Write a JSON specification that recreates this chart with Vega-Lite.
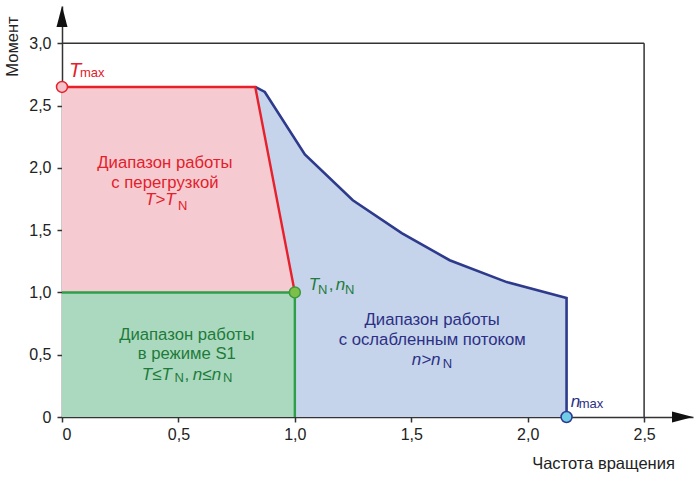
{
  "$schema": "https://vega.github.io/schema/vega-lite/v6.json",
  "width": 631,
  "height": 411,
  "autosize": {"type": "none"},
  "padding": {"left": 62, "top": 6, "right": 4, "bottom": 60},
  "background": "white",
  "config": {
    "view": {"stroke": null},
    "font": "Liberation Sans",
    "axis": {
      "grid": false,
      "domainColor": "#333333",
      "domainWidth": 1.5,
      "tickColor": "#333333",
      "tickWidth": 1.5,
      "tickSize": 5,
      "labelFont": "Liberation Sans",
      "labelFontSize": 16,
      "labelColor": "#222222",
      "titleFont": "Liberation Sans",
      "titleFontSize": 16.5,
      "titleFontWeight": "normal",
      "titleColor": "#222222"
    }
  },
  "datasets": {
    "curve": [
      {"x": 0.83, "y": 2.65, "o": 1},
      {"x": 0.871, "y": 2.61, "o": 2},
      {"x": 1.043, "y": 2.109, "o": 3},
      {"x": 1.249, "y": 1.74, "o": 4},
      {"x": 1.459, "y": 1.476, "o": 5},
      {"x": 1.665, "y": 1.259, "o": 6},
      {"x": 1.91, "y": 1.083, "o": 7},
      {"x": 2.167, "y": 0.955, "o": 8}
    ],
    "curveEnd": [
      {"x": 0.83, "y": 2.65, "o": 1},
      {"x": 0.871, "y": 2.61, "o": 2},
      {"x": 1.043, "y": 2.109, "o": 3},
      {"x": 1.249, "y": 1.74, "o": 4},
      {"x": 1.459, "y": 1.476, "o": 5},
      {"x": 1.665, "y": 1.259, "o": 6},
      {"x": 1.91, "y": 1.083, "o": 7},
      {"x": 2.167, "y": 0.955, "o": 8},
      {"x": 2.167, "y": 0, "o": 9}
    ],
    "red": [
      {"x": 0, "y": 2.65, "o": 1},
      {"x": 0.83, "y": 2.65, "o": 2},
      {"x": 1.0, "y": 1.0, "o": 3}
    ],
    "greenLine": [
      {"x": 0, "y": 1, "o": 1},
      {"x": 1, "y": 1, "o": 2},
      {"x": 1, "y": 0, "o": 3}
    ],
    "box": [
      {"x": 0, "x2": 2.5, "y": 3.0, "y2": 3.0},
      {"x": 2.5, "x2": 2.5, "y": 0, "y2": 3.0}
    ],
    "pts": [
      {"x": 0, "y": 2.65, "c": "r"},
      {"x": 1, "y": 1, "c": "g"},
      {"x": 2.167, "y": 0, "c": "b"}
    ],
    "body": [
      {"x": 0.442, "y": 1.997, "t": "Диапазон работы", "c": "r"},
      {"x": 0.442, "y": 1.836, "t": "с перегрузкой", "c": "r"},
      {"x": 0.536, "y": 0.617, "t": "Диапазон работы", "c": "g"},
      {"x": 0.536, "y": 0.465, "t": "в режиме S1", "c": "g"},
      {"x": 1.59, "y": 0.738, "t": "Диапазон работы", "c": "b"},
      {"x": 1.59, "y": 0.577, "t": "с ослабленным потоком", "c": "b"}
    ],
    "ital": [
      {"x": 0.356, "y": 1.70, "t": "T>T", "c": "r"},
      {"x": 0.343, "y": 0.297, "t": "T≤T", "c": "g"},
      {"x": 0.562, "y": 0.297, "t": "n≤n", "c": "g"},
      {"x": 1.06, "y": 1.018, "t": "T", "c": "g"},
      {"x": 1.176, "y": 1.018, "t": "n", "c": "g"},
      {"x": 1.502, "y": 0.417, "t": "n>n", "c": "b"},
      {"x": 2.185, "y": 0.08, "t": "n", "c": "b"}
    ],
    "big": [
      {"x": 0.03, "y": 2.727, "t": "T", "c": "r"}
    ],
    "sub": [
      {"x": 0.077, "y": 2.727, "t": "max", "c": "r"},
      {"x": 0.498, "y": 1.66, "t": "N", "c": "r"},
      {"x": 0.483, "y": 0.28, "t": "N", "c": "g"},
      {"x": 0.691, "y": 0.28, "t": "N", "c": "g"},
      {"x": 1.099, "y": 0.988, "t": "N", "c": "g"},
      {"x": 1.215, "y": 0.988, "t": "N", "c": "g"},
      {"x": 1.635, "y": 0.393, "t": "N", "c": "b"},
      {"x": 2.219, "y": 0.072, "t": "max", "c": "b"}
    ],
    "punct": [
      {"x": 0.526, "y": 0.297, "t": ",", "c": "g"},
      {"x": 1.146, "y": 1.018, "t": ",", "c": "g"}
    ],
    "arrowX": [{"x": 2.71, "y": 0}],
    "arrowY": [{"x": 0, "y": 3.3}]
  },
  "encoding": {
    "x": {
      "field": "x",
      "type": "quantitative",
      "scale": {"domain": [0, 2.71], "nice": false, "zero": false},
      "axis": {
        "values": [0, 0.5, 1, 1.5, 2, 2.5],
        "labelExpr": "datum.value == 0 ? '0' : replace(format(datum.value, '.1f'), '.', ',')",
        "labelPadding": 4,
        "title": "Частота вращения",
        "titleX": 541,
        "titleY": 46,
        "titleAlign": "center",
        "titleBaseline": "middle",
        "titleAnchor": null
      }
    },
    "y": {
      "field": "y",
      "type": "quantitative",
      "scale": {"domain": [0, 3.3], "nice": false, "zero": false},
      "axis": {
        "values": [0, 0.5, 1, 1.5, 2, 2.5, 3],
        "labelExpr": "datum.value == 0 ? '0' : replace(format(datum.value, '.1f'), '.', ',')",
        "labelPadding": 6,
        "title": "Момент",
        "titleX": -50,
        "titleY": 40,
        "titleAngle": -90,
        "titleAlign": "center",
        "titleBaseline": "middle",
        "titleAnchor": null
      }
    }
  },
  "layer": [
    {
      "data": {"name": "curve"},
      "mark": {"type": "area", "fill": "#c5d4ea", "fillOpacity": 1, "line": false}
    },
    {
      "data": {"name": "red"},
      "mark": {"type": "area", "fill": "#f5cbd1", "fillOpacity": 1, "line": false}
    },
    {
      "data": {"values": [{"x": 0, "x2": 1, "y": 0, "y2": 1}]},
      "mark": {"type": "rect", "color": "#abd9bf"},
      "encoding": {"x2": {"field": "x2"}, "y2": {"field": "y2"}}
    },
    {
      "data": {"name": "curveEnd"},
      "mark": {"type": "line", "color": "#2e3a8c", "strokeWidth": 2.6},
      "encoding": {"order": {"field": "o"}}
    },
    {
      "data": {"name": "red"},
      "mark": {"type": "line", "color": "#e8202b", "strokeWidth": 2.4},
      "encoding": {"order": {"field": "o"}}
    },
    {
      "data": {"name": "greenLine"},
      "mark": {"type": "line", "color": "#2e9e48", "strokeWidth": 2.4},
      "encoding": {"order": {"field": "o"}}
    },
    {
      "data": {"name": "box"},
      "mark": {"type": "rule", "color": "#333333", "strokeWidth": 1.5},
      "encoding": {"x2": {"field": "x2"}, "y2": {"field": "y2"}}
    },
    {
      "data": {"name": "pts"},
      "transform": [{"filter": "datum.c == 'r'"}],
      "mark": {"type": "point", "shape": "circle", "filled": true, "fill": "#f4c2c9", "stroke": "#e8202b", "strokeWidth": 1.5, "size": 120, "opacity": 1}
    },
    {
      "data": {"name": "pts"},
      "transform": [{"filter": "datum.c == 'g'"}],
      "mark": {"type": "point", "shape": "circle", "filled": true, "fill": "#7cc04a", "stroke": "#3c9a3c", "strokeWidth": 1.5, "size": 120, "opacity": 1}
    },
    {
      "data": {"name": "pts"},
      "transform": [{"filter": "datum.c == 'b'"}],
      "mark": {"type": "point", "shape": "circle", "filled": true, "fill": "#6fcde8", "stroke": "#2e3a8c", "strokeWidth": 1.5, "size": 120, "opacity": 1}
    },
    {
      "data": {"name": "body"},
      "mark": {"type": "text", "align": "center", "baseline": "alphabetic", "fontSize": 16.7, "font": "Liberation Sans"},
      "encoding": {
        "text": {"field": "t"},
        "color": {"field": "c", "type": "nominal", "scale": {"domain": ["r", "g", "b"], "range": ["#e3202b", "#1e7b3a", "#2c2f85"]}, "legend": null}
      }
    },
    {
      "data": {"name": "ital"},
      "mark": {"type": "text", "align": "left", "baseline": "alphabetic", "fontSize": 17, "fontStyle": "italic", "font": "Liberation Sans"},
      "encoding": {
        "text": {"field": "t"},
        "color": {"field": "c", "type": "nominal", "scale": {"domain": ["r", "g", "b"], "range": ["#e3202b", "#1e7b3a", "#2c2f85"]}, "legend": null}
      }
    },
    {
      "data": {"name": "big"},
      "mark": {"type": "text", "align": "left", "baseline": "alphabetic", "fontSize": 20, "fontStyle": "italic", "font": "Liberation Sans"},
      "encoding": {
        "text": {"field": "t"},
        "color": {"field": "c", "type": "nominal", "scale": {"domain": ["r", "g", "b"], "range": ["#e3202b", "#1e7b3a", "#2c2f85"]}, "legend": null}
      }
    },
    {
      "data": {"name": "sub"},
      "mark": {"type": "text", "align": "left", "baseline": "alphabetic", "fontSize": 13, "font": "Liberation Sans"},
      "encoding": {
        "text": {"field": "t"},
        "color": {"field": "c", "type": "nominal", "scale": {"domain": ["r", "g", "b"], "range": ["#e3202b", "#1e7b3a", "#2c2f85"]}, "legend": null}
      }
    },
    {
      "data": {"name": "punct"},
      "mark": {"type": "text", "align": "left", "baseline": "alphabetic", "fontSize": 17, "font": "Liberation Sans"},
      "encoding": {
        "text": {"field": "t"},
        "color": {"field": "c", "type": "nominal", "scale": {"domain": ["r", "g", "b"], "range": ["#e3202b", "#1e7b3a", "#2c2f85"]}, "legend": null}
      }
    },
    {
      "data": {"name": "arrowX"},
      "mark": {"type": "point", "shape": "M -2.1 -0.55 L 0 0 L -2.1 0.55 Z", "filled": true, "color": "#111111", "size": 400, "opacity": 1}
    },
    {
      "data": {"name": "arrowY"},
      "mark": {"type": "point", "shape": "M -0.55 2.1 L 0 0 L 0.55 2.1 Z", "filled": true, "color": "#111111", "size": 400, "opacity": 1}
    }
  ]
}
